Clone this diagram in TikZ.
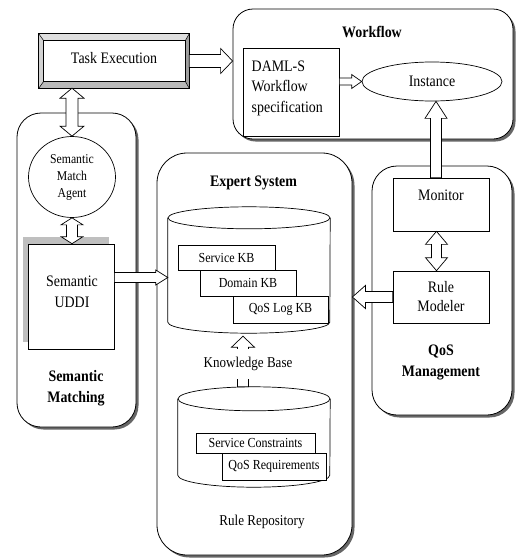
\documentclass[tikz,border=0pt]{standalone}
\usepackage{fontspec}
\setmainfont{Liberation Serif}[FakeStretch=0.87]
\usetikzlibrary{calc,shadows,shapes.geometric}

% hollow block arrow from #1 to #2: shaft half-width #3, head half-width #4, head length #5
\newcommand\blockarrow[5]{%
  \coordinate (hb) at ($(#2)!#5!(#1)$);
  \path[arrowbody] ($(#1)!#3!90:(#2)$) -- ($(hb)!#3!-90:(#1)$) -- ($(hb)!#4!-90:(#1)$)
    -- (#2) -- ($(hb)!#4!90:(#1)$) -- ($(hb)!#3!90:(#1)$) -- ($(#1)!#3!-90:(#2)$) -- cycle;}
% hollow block arrow with heads at both ends
\newcommand\dblockarrow[5]{%
  \coordinate (ha) at ($(#1)!#5!(#2)$);
  \coordinate (hb) at ($(#2)!#5!(#1)$);
  \path[arrowbody] (#1) -- ($(ha)!#4!90:(#2)$) -- ($(ha)!#3!90:(#2)$) -- ($(hb)!#3!-90:(#1)$)
    -- ($(hb)!#4!-90:(#1)$) -- (#2) -- ($(hb)!#4!90:(#1)$) -- ($(hb)!#3!90:(#1)$)
    -- ($(ha)!#3!-90:(#2)$) -- ($(ha)!#4!-90:(#2)$) -- cycle;}

\tikzset{
  container/.style={draw, fill=white, line width=0.8pt, inner sep=0pt,
    drop shadow={shadow xshift=2.5pt, shadow yshift=-2.5pt, fill=black!60, opacity=1}},
  plainbox/.style={draw, fill=white, line width=0.7pt, inner sep=0pt},
  arrowbody/.style={draw, fill=white, line width=0.7pt, line join=miter},
  lbl/.style={font=\fontsize{16}{20}\selectfont, inner sep=0pt},
  ttl/.style={font=\bfseries\fontsize{16}{20.5}\selectfont, inner sep=0pt, align=center},
  small/.style={font=\fontsize{13.8}{16}\selectfont, inner sep=0pt},
  cyl/.style={line width=0.7pt},
}

\begin{document}
\begin{tikzpicture}[x=1pt, y=-1pt]
\useasboundingbox (0,0) rectangle (516,560);

% ---- group containers ----
\node[container, rounded corners=20pt, minimum width=280pt, minimum height=130pt] (wf) at (373,74) {};
\node[container, rounded corners=24pt, minimum width=119pt, minimum height=314pt] (sm) at (76.5,270) {};
\node[container, rounded corners=30pt, minimum width=195pt, minimum height=402pt] (es) at (254.5,354) {};
\node[container, rounded corners=25pt, minimum width=140pt, minimum height=249pt] (qm) at (442,290.5) {};

\node[ttl] (wftitle) at (372,32) {Workflow};
\node[ttl] (estitle) at (253.5,183) {Expert System};
\node[ttl] (smtitle) at (76,388) {Semantic\\Matching};
\node[ttl] (qmtitle) at (441,362.5) {QoS\\Management};

% ---- bevelled task execution button ----
\node[minimum width=150pt, minimum height=54pt, inner sep=0pt] (task) at (114,61) {};
\node[minimum width=141pt, minimum height=40pt, inner sep=0pt] (taskin) at (114.5,61) {};
\fill[gray!25] (task.north west) -- (task.north east) -- (taskin.north east) -- (taskin.north west) -- cycle;
\fill[gray!35] (task.north west) -- (taskin.north west) -- (taskin.south west) -- (task.south west) -- cycle;
\fill[gray!55] (task.south west) -- (taskin.south west) -- (taskin.south east) -- (task.south east) -- cycle;
\fill[gray!75] (task.north east) -- (task.south east) -- (taskin.south east) -- (taskin.north east) -- cycle;
\draw[line width=0.7pt] (task.north west) rectangle (task.south east);
\draw[line width=0.7pt, fill=white] (taskin.north west) rectangle (taskin.south east);
\draw[line width=0.5pt] (task.north west) -- (taskin.north west)
  (task.north east) -- (taskin.north east)
  (task.south west) -- (taskin.south west)
  (task.south east) -- (taskin.south east);
\node[lbl] (tasktxt) at (114,58.5) {Task Execution};

% ---- workflow contents ----
\node[plainbox, minimum width=96pt, minimum height=88pt] (daml) at (291,92) {};
\node[lbl, align=left, anchor=west, font=\fontsize{16}{20.5}\selectfont] (damltxt) at (251.5,88) {DAML-S\\Workflow\\specification};
\node[plainbox, ellipse, minimum width=140pt, minimum height=39pt, lbl] (inst) at (432,81.5) {Instance};

% ---- semantic matching contents ----
\node[plainbox, ellipse, minimum width=87pt, minimum height=81pt, small, align=center,
  font=\fontsize{13.5}{17}\selectfont] (agent) at (72,177) {Semantic\\Match\\Agent};
\node[plainbox, minimum width=86pt, minimum height=105pt,
  drop shadow={shadow xshift=-5.5pt, shadow yshift=7.5pt, fill=black!25, opacity=1}] (uddi) at (71,296.5) {};
\node[lbl, align=center, font=\fontsize{16}{21}\selectfont] (udditxt) at (72,291.5) {Semantic\\UDDI};

% ---- QoS management contents ----
\node[plainbox, minimum width=96pt, minimum height=53pt] (mon) at (441,204.5) {};
\node[lbl] (montxt) at (441,195) {Monitor};
\node[plainbox, minimum width=96pt, minimum height=52pt, lbl, align=center,
  font=\fontsize{16}{19}\selectfont] (rm) at (441,297) {Rule\\Modeler};

% ---- knowledge base cylinder ----
\node[minimum width=162pt, minimum height=104pt, inner sep=0pt] (kb) at (249,270) {};
\draw[cyl, fill=white] (kb.north west) -- (kb.south west)
  arc[start angle=180, end angle=360, x radius=81pt, y radius=11pt] -- (kb.north east);
\draw[cyl] (kb.north) ellipse[x radius=81pt, y radius=11pt];
\node[plainbox, minimum width=97pt, minimum height=25pt, small] (skb) at (226.5,257.5) {Service KB};
\node[plainbox, minimum width=96pt, minimum height=26pt, small] (dkb) at (248,283) {Domain KB};
\node[plainbox, minimum width=95pt, minimum height=27pt, small] (qkb) at (280.5,309.5) {QoS Log KB};

% ---- rule repository cylinder ----
\node[minimum width=152pt, minimum height=76pt, inner sep=0pt] (rr) at (254,437) {};
\draw[cyl, fill=white] (rr.north west) -- (rr.south west)
  arc[start angle=180, end angle=360, x radius=76pt, y radius=12pt] -- (rr.north east);
\draw[cyl] (rr.north) ellipse[x radius=76pt, y radius=12pt];
\node[plainbox, minimum width=119pt, minimum height=20pt, small] (sc) at (255.5,443) {Service Constraints};
\node[plainbox, minimum width=104pt, minimum height=27pt, small] (qr) at (274,466.5) {QoS Requirements};
\node[lbl, font=\fontsize{15}{18}\selectfont] (rrtxt) at (262,522) {Rule Repository};

% ---- block arrows ----
\coordinate (a1s) at (task.east);
\coordinate (a1e) at (task.east -| wf.west);
\blockarrow{a1s}{a1e}{6.5pt}{12.5pt}{12pt}

\coordinate (a2s) at (agent.north |- task.south);
\coordinate (a2e) at (agent.north);
\dblockarrow{a2s}{a2e}{6pt}{12pt}{10pt}

\coordinate (a3s) at (agent.south);
\coordinate (a3e) at (agent.south |- uddi.north);
\dblockarrow{a3s}{a3e}{5.5pt}{11pt}{7pt}

\coordinate (a4s) at (inst.west -| daml.east);
\coordinate (a4e) at (inst.west);
\blockarrow{a4s}{a4e}{3.5pt}{7pt}{10pt}

\coordinate (a5s) at ([xshift=-5pt]mon.north);
\coordinate (a5e) at ([xshift=-5pt]mon.north |- inst.south);
\blockarrow{a5s}{a5e}{5.5pt}{11pt}{17pt}

\coordinate (a6s) at ([xshift=-4.5pt]mon.south);
\coordinate (a6e) at ([xshift=-4.5pt]rm.north);
\dblockarrow{a6s}{a6e}{5pt}{11pt}{13pt}

\coordinate (a7s) at ([yshift=19pt]uddi.east);
\coordinate (a7e) at ([yshift=19pt]uddi.east -| kb.west);
\blockarrow{a7s}{a7e}{5pt}{7.5pt}{12pt}

\coordinate (a8s) at (rm.west);
\coordinate (a8e) at (rm.west -| es.east);
\blockarrow{a8s}{a8e}{5.5pt}{11.5pt}{13pt}

\coordinate (rrtop) at ($(rr.north)+(-11,-12)$);
\coordinate (kbbase) at ($(kb.south)+(-6,14)$);
\blockarrow{rrtop}{kbbase}{5.5pt}{11.5pt}{11pt}
\node[fill=white, inner sep=0pt, minimum width=96pt, minimum height=30pt,
  font=\fontsize{15}{18}\selectfont] (kblbl) at (248,363.5) {\raisebox{-2.5pt}{Knowledge Base}};

\end{tikzpicture}
\end{document}
